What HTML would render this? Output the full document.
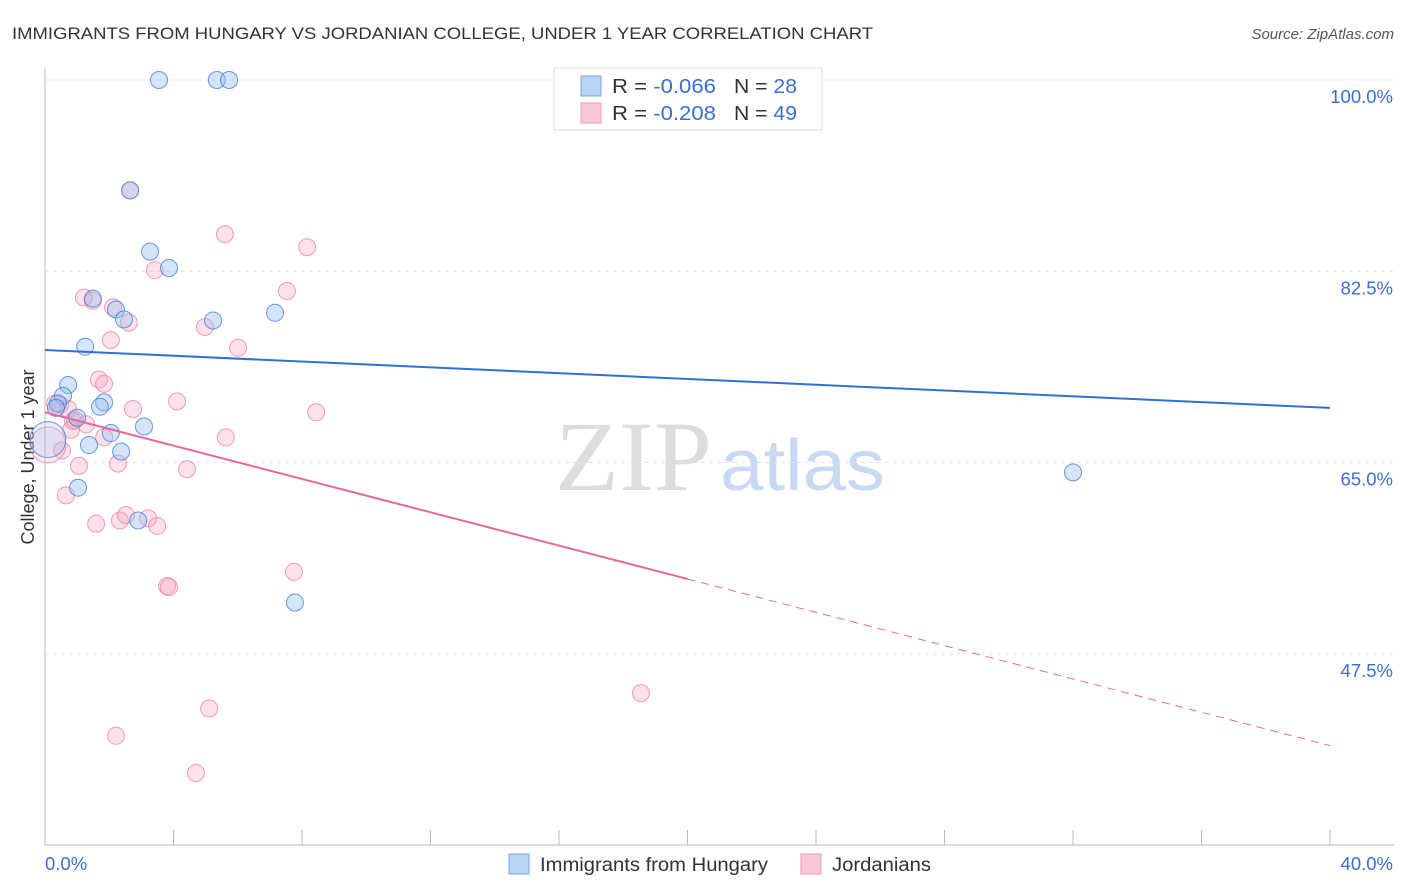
<!DOCTYPE html>
<html><head><meta charset="utf-8">
<style>
body{margin:0;background:#fff;font-family:"Liberation Sans",sans-serif;}
#wrap{position:relative;width:1406px;height:892px;overflow:hidden;}
</style></head>
<body><div id="wrap">
<svg id="svg" width="1406" height="892" xmlns="http://www.w3.org/2000/svg">
<text x="12" y="39" font-size="17" fill="#333" textLength="861" lengthAdjust="spacingAndGlyphs">IMMIGRANTS FROM HUNGARY VS JORDANIAN COLLEGE, UNDER 1 YEAR CORRELATION CHART</text>
<text x="1394" y="39" font-size="15" fill="#555" font-style="italic" text-anchor="end">Source: ZipAtlas.com</text>
<text x="555" y="490" font-size="100" fill="#ddd" textLength="157" lengthAdjust="spacingAndGlyphs" font-family="Liberation Serif">ZIP</text>
<text x="720" y="490" font-size="72" fill="#c8daf3" textLength="165" lengthAdjust="spacingAndGlyphs">atlas</text>
<text x="34" y="457" font-size="18" fill="#333" text-anchor="middle" transform="rotate(-90 34 457)">College, Under 1 year</text>
<g id="grid"></g><g id="pts"></g><g id="lines"></g>
<g>
<rect x="554" y="68" width="268" height="62" fill="#fff" stroke="#ddd"/>
<rect x="581" y="76" width="20" height="20" fill="#b9d3f5" stroke="#7aa6e6"/>
<rect x="581" y="103" width="20" height="20" fill="#f9c7d6" stroke="#ee9ab4"/>
<text x="612" y="93" font-size="20" fill="#333" textLength="104" lengthAdjust="spacingAndGlyphs">R = <tspan fill="#3a6fd0">-0.066</tspan></text>
<text x="734" y="93" font-size="20" fill="#333" textLength="63" lengthAdjust="spacingAndGlyphs">N = <tspan fill="#3a6fd0">28</tspan></text>
<text x="612" y="120" font-size="20" fill="#333" textLength="104" lengthAdjust="spacingAndGlyphs">R = <tspan fill="#3a6fd0">-0.208</tspan></text>
<text x="734" y="120" font-size="20" fill="#333" textLength="63" lengthAdjust="spacingAndGlyphs">N = <tspan fill="#3a6fd0">49</tspan></text>
</g>
<g>
<rect x="509" y="854" width="20" height="20" fill="#b9d3f5" stroke="#7aa6e6"/>
<text x="540" y="871" font-size="19" fill="#333" textLength="228" lengthAdjust="spacingAndGlyphs">Immigrants from Hungary</text>
<rect x="801" y="854" width="20" height="20" fill="#f9c7d6" stroke="#ee9ab4"/>
<text x="832" y="871" font-size="19" fill="#333" textLength="99" lengthAdjust="spacingAndGlyphs">Jordanians</text>
</g>
</svg></div>
<script>
const yTicks=[100,82.5,65,47.5];
const xTickLabels=["0.0%","40.0%"];
const blueX=[3.55,5.35,5.73,2.65,3.27,3.86,1.49,2.21,2.46,5.23,7.16,1.25,0.72,0.56,0.40,1.84,1.71,1.00,2.05,3.08,1.37,2.37,1.03,2.90,7.78,32.0,0.09,0.34];
const blueY=[100,100,100,89.9,84.3,82.8,80.0,79.0,78.1,78.0,78.7,75.6,72.1,71.1,70.4,70.5,70.1,69.1,67.7,68.3,66.6,66.0,62.7,59.7,52.2,64.1,67.1,70.0];
const pinkX=[2.65,5.60,8.16,3.42,7.53,1.21,1.49,2.12,2.61,4.98,2.05,6.01,1.68,1.84,4.11,2.74,8.44,0.47,0.31,0.72,0.87,1.28,0.81,1.84,5.63,0.53,1.06,2.27,4.42,0.65,1.59,2.33,2.52,3.21,3.49,7.75,3.80,3.86,5.11,2.21,4.70,18.55,0.09,0.93];
const pinkY=[89.9,85.9,84.7,82.6,80.7,80.1,79.8,79.2,77.8,77.4,76.2,75.5,72.6,72.2,70.6,69.9,69.6,70.3,70.4,69.9,68.8,68.5,68.0,67.3,67.3,66.1,64.7,64.9,64.4,62.0,59.4,59.7,60.2,59.9,59.2,55.0,53.7,53.6,42.5,40.0,36.6,43.9,66.6,68.9];
const blueTrend=[75.3,70.0];
const pinkTrend=[69.6,39.1];
const NS="http://www.w3.org/2000/svg";
const X=v=>45+v*(1285/40);
const Y=v=>80+(100-v)*10.93;
function mk(tag,attrs,parent){const e=document.createElementNS(NS,tag);for(const k in attrs)e.setAttribute(k,attrs[k]);document.getElementById(parent).appendChild(e);return e;}
let e=mk('line',{x1:45,y1:68,x2:45,y2:845,stroke:'#bbb'},'grid');


e=mk('line',{x1:45,y1:845,x2:1394,y2:845,stroke:'#bbb'},'grid');


for(let i=1;i<=10;i++){e=mk('line',{x1:X(i*4),y1:830,x2:X(i*4),y2:845,stroke:'#bbb'},'grid');

}
yTicks.forEach(t=>{e=mk('line',{x1:45,y1:Y(t),x2:1394,y2:Y(t),stroke:'#e2e2e2','stroke-dasharray':'4,4'},'grid');


e=mk('text',{x:1393,y:Y(t)+23,'font-size':18.5,fill:'#3a6fd0','text-anchor':'end'},'grid');e.textContent=t.toFixed(1)+'%';

});
e=mk('text',{x:45,y:870,'font-size':18.5,fill:'#3a6fd0'},'grid');e.textContent=xTickLabels[0];


e=mk('text',{x:1393,y:870,'font-size':18.5,fill:'#3a6fd0','text-anchor':'end'},'grid');e.textContent=xTickLabels[1];


pinkX.forEach((x,i)=>{const big=(i===42);e=mk('circle',{cx:X(x),cy:Y(pinkY[i]),r:big?18:8.5,fill:big?'rgba(246,170,194,0.25)':'rgba(246,170,194,0.35)',stroke:'rgba(232,120,156,0.7)','stroke-width':1},'pts');

});
blueX.forEach((x,i)=>{const big=(i===26);e=mk('circle',{cx:X(x),cy:Y(blueY[i]),r:big?18:8.5,fill:big?'rgba(150,190,240,0.25)':'rgba(150,190,240,0.4)',stroke:'rgba(60,120,210,0.75)','stroke-width':1},'pts');

});
e=mk('line',{x1:X(0),y1:Y(blueTrend[0]),x2:X(40),y2:Y(blueTrend[1]),stroke:'#2f6fd6','stroke-width':2},'lines');


const pm=(pinkTrend[0]+pinkTrend[1])/2;
e=mk('line',{x1:X(0),y1:Y(pinkTrend[0]),x2:X(20),y2:Y(pm),stroke:'#e8689a','stroke-width':2},'lines');


e=mk('line',{x1:X(20),y1:Y(pm),x2:X(40),y2:Y(pinkTrend[1]),stroke:'#e8689a','stroke-width':1,'stroke-dasharray':'8,6'},'lines');


</script>
</body></html>
